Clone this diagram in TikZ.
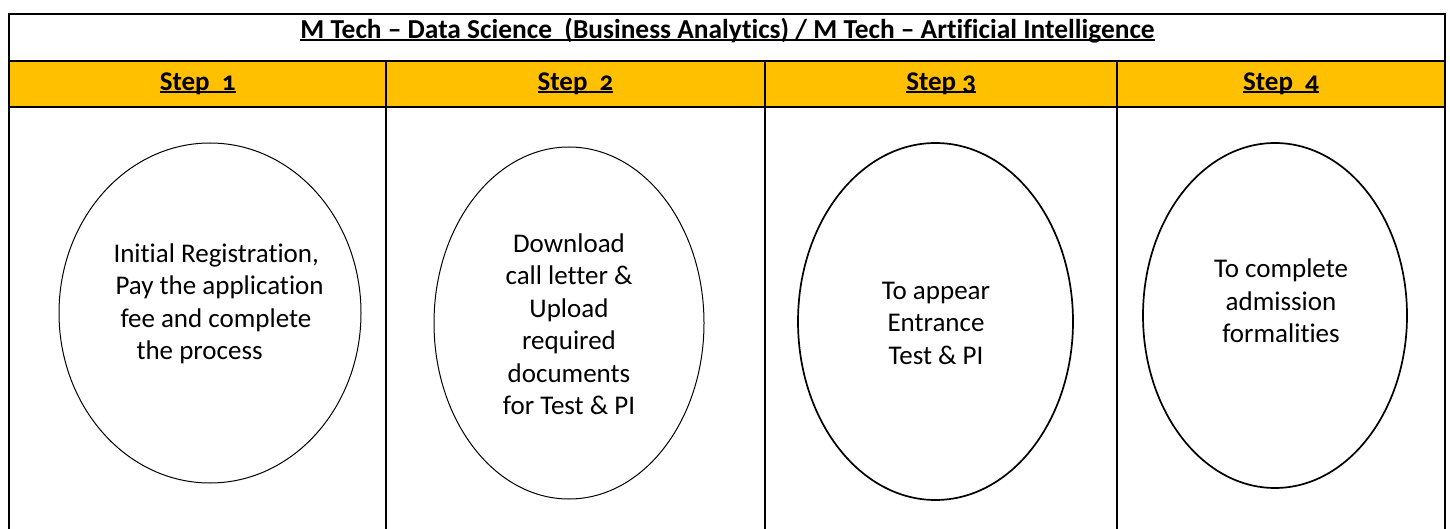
\documentclass[tikz,border=0pt]{standalone}
\usepackage{fontspec}
\setmainfont{Carlito}[Numbers=OldStyle, Ligatures=NoCommon]
\usepackage{xcolor}
\usetikzlibrary{shapes.geometric}
\definecolor{stepgold}{RGB}{255,192,0}
\newsavebox\ulbox
\newcommand\undl[1]{\sbox\ulbox{#1}\rlap{\rule[-2.6pt]{\wd\ulbox}{1.9pt}}\usebox\ulbox}

\begin{document}
\begin{tikzpicture}[
        x=1pt, y=-1pt,
        font=\fontsize{27}{32.5}\selectfont,
        cell/.style={rectangle, draw, line width=2.2pt, inner sep=0pt, outer sep=0pt, anchor=north west},
        stepcell/.style={cell, fill=stepgold, minimum height=46pt, font=\fontsize{27}{32.5}\selectfont\bfseries},
        bodycell/.style={cell, minimum height=440pt},
        bubble/.style={ellipse, draw, inner sep=0pt},
        note/.style={inner sep=0pt, align=center}
    ]
        \useasboundingbox (0,0) rectangle (1450,529);

        % header row
        \node[cell, minimum width=1435.4pt, minimum height=47pt] (hdr) at (9.3,13.7) {};
        \node[anchor=base, inner sep=0pt, font=\fontsize{27.4}{32}\selectfont\bfseries] (ttl) at (727.5,38.7)
            {\undl{M Tech – Data Science\ \ (Business Analytics) / M Tech – Artificial Intelligence}};

        % steps
        \node[stepcell, minimum width=376.7pt] (s1) at (9.3,60.7) {\undl{Step\ \ 1}};
        \node[stepcell, minimum width=379pt] (s2) at (386,60.7) {\undl{Step\ \ 2}};
        \node[stepcell, minimum width=352.3pt] (s3) at (765,60.7) {\undl{Step 3}};
        \node[stepcell, minimum width=327.4pt] (s4) at (1117.3,60.7) {\undl{Step\ \ 4}};

        \node[bodycell, minimum width=376.7pt] (b1) at (9.3,106.7) {};
        \node[bodycell, minimum width=379pt] (b2) at (386,106.7) {};
        \node[bodycell, minimum width=352.3pt] (b3) at (765,106.7) {};
        \node[bodycell, minimum width=327.4pt] (b4) at (1117.3,106.7) {};

        % ovals
        \node[bubble, line width=1pt, minimum width=302pt, minimum height=340pt] (e1) at (210,313) {};
        \node[bubble, line width=1pt, minimum width=270pt, minimum height=352pt] (e2) at (569,323) {};
        \node[bubble, line width=1.7pt, minimum width=275pt, minimum height=357pt] (e3) at (935.5,321.5) {};
        \node[bubble, line width=1.7pt, minimum width=264pt, minimum height=345pt] (e4) at (1275,315.5) {};

        \node[note, align=left, anchor=west] (t1) at (113.3,304)
            {Initial Registration,\\\hspace*{2pt}Pay the application\\\hspace*{7pt}fee and complete\\\hspace*{23pt}the process};
        \node[note] (t2) at (569,324) {Download\\call letter \&\\Upload\\required\\documents\\for Test \& PI};
        \node[note] (t3) at (936,323) {To appear\\Entrance\\Test \& PI};
        \node[note] (t4) at (1281,301) {To complete\\admission\\formalities};
\end{tikzpicture}
\end{document}
